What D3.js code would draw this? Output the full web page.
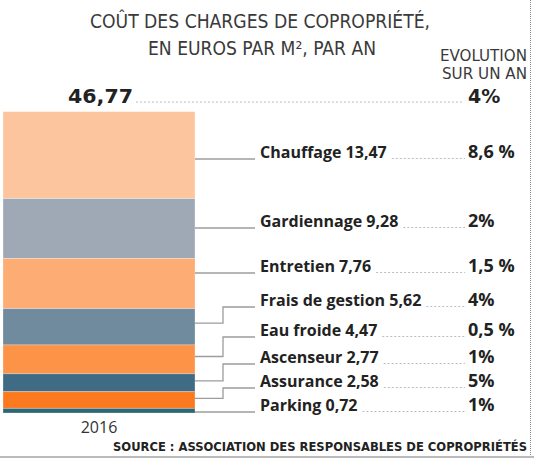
<!DOCTYPE html>
<html>
<head>
<meta charset="utf-8">
<script src="https://cdn.jsdelivr.net/npm/d3@7"></script>
<style>
  html, body { margin: 0; padding: 0; background: #fff; }
  svg { display: block; }
</style>
</head>
<body>
<svg id="chart" width="534" height="460"></svg>
<script>
// ---- Data ----
const years = ["2016"];
const categories = ["Chauffage", "Gardiennage", "Entretien", "Frais de gestion", "Eau froide", "Ascenseur", "Assurance", "Parking"];
const values = [13.47, 9.28, 7.76, 5.62, 4.47, 2.77, 2.58, 0.72];
const evolutions = ["8,6 %", "2%", "1,5 %", "4%", "0,5 %", "1%", "5%", "1%"];
const totalValue = 46.77;
const totalEvolution = "4%";
const titleLines = ["COÛT DES CHARGES DE COPROPRIÉTÉ,", "EN EUROS PAR M², PAR AN"];
const evolutionHeader = ["EVOLUTION", "SUR UN AN"];
const sourceText = "SOURCE : ASSOCIATION DES RESPONSABLES DE COPROPRIÉTÉS";

// ---- Styles / layout ----
const colors = ["#FDC59E", "#9FA9B6", "#FDAC73", "#708A9E", "#FD9346", "#3F6B85", "#FB7A20", "#2F6673"];
const labelY = [159, 228, 273, 307, 337, 364, 388, 412]; // label rows (layout)

const fr = d3.formatLocale({decimal: ",", thousands: " ", grouping: [3], currency: ["", " €"]});
const fmt = fr.format(".2f");

const svg = d3.select("#chart");

const x = d3.scaleBand().domain(years).range([3, 195]).padding(0);
const y = d3.scaleLinear().domain([0, totalValue]).range([413, 111]);

// stacked table (first category on top)
const row = {year: years[0]};
categories.forEach((c, i) => row[c] = values[i]);
const series = d3.stack().keys(categories).order(d3.stackOrderReverse)([row]);
series.sort((a, b) => categories.indexOf(a.key) - categories.indexOf(b.key));

// bar segments
svg.append("g").selectAll("rect")
  .data(series)
  .join("rect")
  .attr("x", d => x(d[0].data.year))
  .attr("width", x.bandwidth())
  .attr("y", d => y(d[0][1]))
  .attr("height", d => y(d[0][0]) - y(d[0][1]))
  .attr("fill", d => colors[categories.indexOf(d.key)])
  .attr("stroke", "rgba(255,255,255,0.35)")
  .attr("stroke-width", 0.8);

// year axis label
const xAxis = d3.axisBottom(x).tickSize(0).tickPadding(6);
const gx = svg.append("g").attr("transform", "translate(0,413)").call(xAxis);
gx.select(".domain").remove();
gx.selectAll("text")
  .attr("font-family", "'Open Sans', sans-serif")
  .attr("font-size", 16)
  .attr("fill", "#333")
  .attr("dy", "0.9em");

// leader lines
const barRight = x(years[0]) + x.bandwidth();
const elbowX = 223, labelStartX = 255;
const leaders = svg.append("g").attr("fill", "none").attr("stroke", "#9c9c9c").attr("stroke-width", 1.3);
series.forEach(s => {
  const i = categories.indexOf(s.key);
  const y0 = y(s[0][1]), y1 = y(s[0][0]);
  const ly = labelY[i];
  let path;
  if (ly >= y0 - 1 && ly <= y1 + 1) {
    path = d3.line()([[barRight, ly], [labelStartX, ly]]);
  } else {
    const sy = y0 + 0.4 * (y1 - y0);
    path = d3.line()([[barRight, sy], [elbowX, sy], [elbowX, ly], [labelStartX, ly]]);
  }
  leaders.append("path").attr("d", path);
});

// labels
const pctX = 468;
const labels = svg.append("g");
categories.forEach((c, i) => {
  const t = labels.append("text")
    .attr("x", 260)
    .attr("y", labelY[i] - 1)
    .attr("font-family", "'Open Sans', sans-serif")
    .attr("font-weight", 700)
    .attr("font-size", 16)
    .attr("fill", "#222")
    .text(c + " " + fmt(values[i]));
  const w = t.node().getComputedTextLength();
  labels.append("line")
    .attr("x1", 260 + w + 5).attr("x2", pctX - 3)
    .attr("y1", labelY[i] - 0.5).attr("y2", labelY[i] - 0.5)
    .attr("stroke", "#bdbdbd").attr("stroke-width", 1)
    .attr("stroke-dasharray", "2,2");
  labels.append("text")
    .attr("x", pctX)
    .attr("y", labelY[i] - 1)
    .attr("font-family", "'Open Sans', sans-serif")
    .attr("font-weight", 700)
    .attr("font-size", 18)
    .attr("fill", "#222")
    .text(evolutions[i]);
});

// title
svg.append("text")
  .attr("x", 90).attr("y", 28)
  .attr("font-family", "'DejaVu Sans Condensed', 'DejaVu Sans', sans-serif")
  .attr("font-size", 19).attr("fill", "#3a3a3a")
  .attr("textLength", 340).attr("lengthAdjust", "spacingAndGlyphs")
  .text(titleLines[0]);
svg.append("text")
  .attr("x", 148).attr("y", 55)
  .attr("font-family", "'DejaVu Sans Condensed', 'DejaVu Sans', sans-serif")
  .attr("font-size", 19).attr("fill", "#3a3a3a")
  .attr("textLength", 228).attr("lengthAdjust", "spacingAndGlyphs")
  .text(titleLines[1]);

// evolution header
svg.append("text")
  .attr("x", 440).attr("y", 61)
  .attr("font-family", "'DejaVu Sans Condensed', 'DejaVu Sans', sans-serif")
  .attr("font-size", 15).attr("fill", "#3a3a3a")
  .attr("textLength", 87).attr("lengthAdjust", "spacingAndGlyphs")
  .text(evolutionHeader[0]);
svg.append("text")
  .attr("x", 442).attr("y", 79)
  .attr("font-family", "'DejaVu Sans Condensed', 'DejaVu Sans', sans-serif")
  .attr("font-size", 15).attr("fill", "#3a3a3a")
  .attr("textLength", 85).attr("lengthAdjust", "spacingAndGlyphs")
  .text(evolutionHeader[1]);

// total
svg.append("text")
  .attr("x", 68).attr("y", 103)
  .attr("font-family", "'DejaVu Sans', sans-serif")
  .attr("font-weight", 700)
  .attr("font-size", 20).attr("fill", "#222")
  .attr("textLength", 65).attr("lengthAdjust", "spacingAndGlyphs")
  .text(fmt(totalValue));
svg.append("line")
  .attr("x1", 136).attr("x2", pctX - 4)
  .attr("y1", 102).attr("y2", 102)
  .attr("stroke", "#bdbdbd").attr("stroke-width", 1)
  .attr("stroke-dasharray", "2,2");
svg.append("text")
  .attr("x", pctX).attr("y", 103)
  .attr("font-family", "'DejaVu Sans', sans-serif")
  .attr("font-weight", 700)
  .attr("font-size", 19).attr("fill", "#222")
  .text(totalEvolution);

// source
svg.append("text")
  .attr("x", 113).attr("y", 451)
  .attr("font-family", "'DejaVu Sans Condensed', 'DejaVu Sans', sans-serif")
  .attr("font-weight", 700)
  .attr("font-size", 12).attr("fill", "#222")
  .attr("textLength", 414).attr("lengthAdjust", "spacingAndGlyphs")
  .text(sourceText);

// frame lines
svg.append("line")
  .attr("x1", 0).attr("x2", 534).attr("y1", 457).attr("y2", 457)
  .attr("stroke", "#bbb").attr("stroke-width", 2);
svg.append("line")
  .attr("x1", 530.5).attr("x2", 530.5).attr("y1", 0).attr("y2", 455)
  .attr("stroke", "#888").attr("stroke-width", 1)
  .attr("stroke-dasharray", "1,1");
</script>
</body>
</html>
